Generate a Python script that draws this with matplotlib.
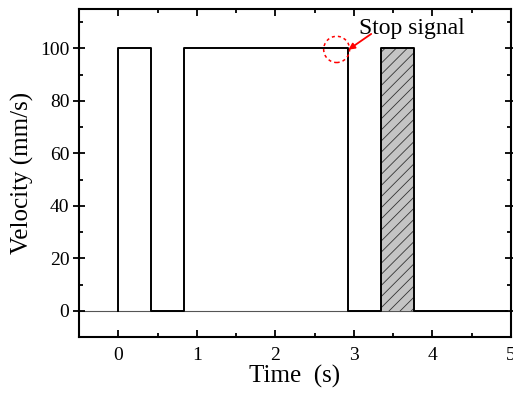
import matplotlib.pyplot as plt
from matplotlib.patches import Ellipse
from matplotlib.ticker import MultipleLocator

plt.rcParams['font.family'] = ['Liberation Serif', 'DejaVu Serif']
plt.rcParams['hatch.linewidth'] = 0.6

# velocity profile (step edges)
t = [0, 0, 0.42, 0.42, 0.84, 0.84, 2.93, 2.93, 3.35, 3.35, 3.76, 3.76, 4.95]
v = [0, 100, 100, 0, 0, 100, 100, 0, 0, 100, 100, 0, 0]

# hatched interval after the stop signal
bar_t = [3.35, 3.76]
bar_v = [100, 100]

stop_t, stop_v = 2.78, 99.6

fig, ax = plt.subplots(figsize=(5.13, 3.98), dpi=100)
fig.subplots_adjust(left=79/513, right=511/513, top=1-9/398, bottom=1-337/398)

ax.axhline(0, color='#555555', lw=0.8, zorder=1)
ax.fill_between(bar_t, 0, bar_v, facecolor='#c4c4c4', edgecolor='#333333',
                hatch='///', lw=0, zorder=2)
ax.plot(t, v, color='black', lw=1.4, zorder=3)

ax.add_patch(Ellipse((stop_t, stop_v), 0.33, 10, fill=False, ec='red',
                     ls=(0, (2, 2)), lw=1.1, zorder=4))
ax.annotate('', xy=(2.93, 99.5), xytext=(3.22, 105.5),
            arrowprops=dict(arrowstyle='-|>', color='red', lw=1.3,
                            mutation_scale=9, shrinkA=0, shrinkB=0),
            zorder=5)
ax.text(3.06, 105.5, 'Stop signal', fontsize=17, ha='left', va='baseline')

ax.set_xlim(-0.5, 5)
ax.set_ylim(-10, 115)
ax.xaxis.set_major_locator(MultipleLocator(1))
ax.xaxis.set_minor_locator(MultipleLocator(0.5))
ax.yaxis.set_major_locator(MultipleLocator(20))
ax.yaxis.set_minor_locator(MultipleLocator(10))
ax.tick_params(which='both', direction='in', top=True, right=True,
               labelsize=14, width=1.3)
ax.tick_params(which='major', length=5)
ax.tick_params(which='minor', length=3)
ax.tick_params(axis='x', which='major', pad=7)
ax.tick_params(axis='y', which='major', direction='inout', length=8, pad=3)
for s in ax.spines.values():
    s.set_linewidth(1.5)

ax.set_xlabel('Time  (s)', fontsize=18, labelpad=1)
ax.set_ylabel('Velocity (mm/s)', fontsize=18, labelpad=4)

fig.savefig('out.png', dpi=100)
